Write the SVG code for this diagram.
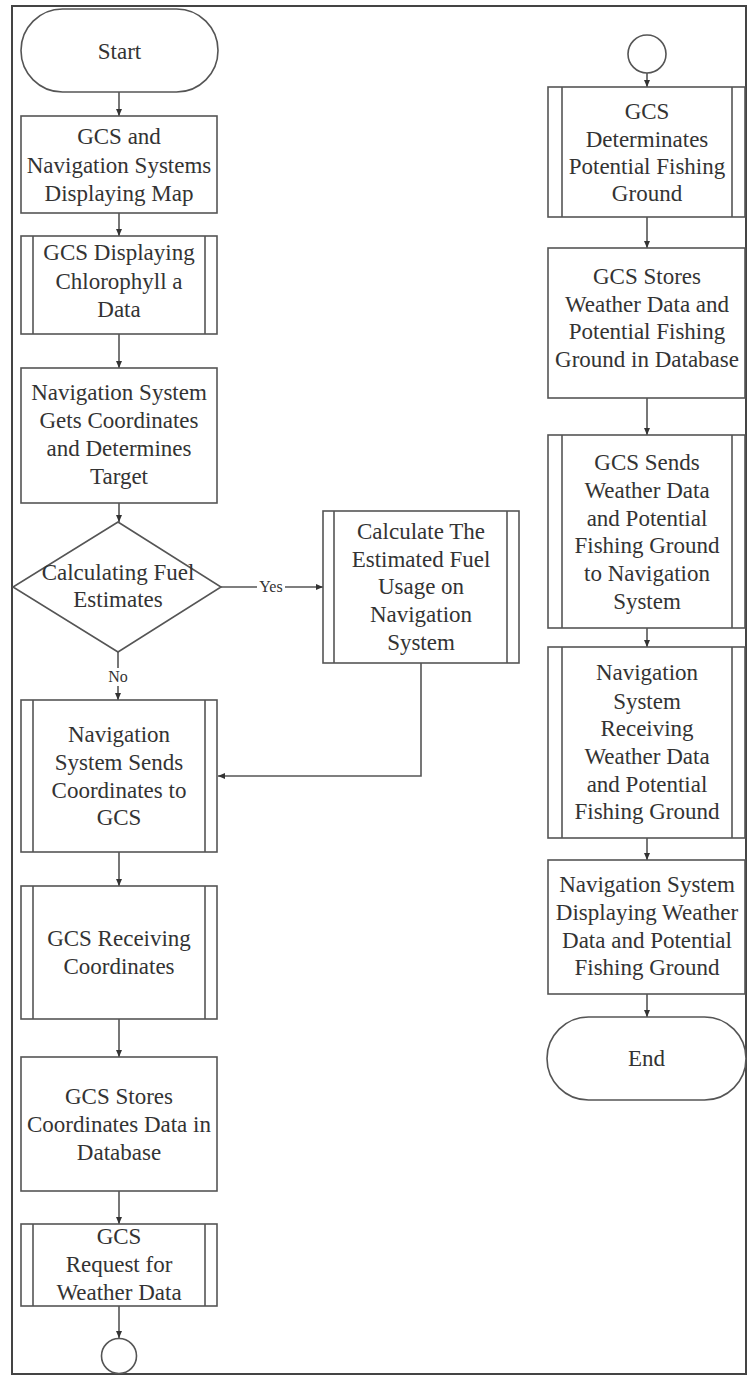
<svg xmlns="http://www.w3.org/2000/svg" width="749" height="1376" viewBox="0 0 749 1376">
<defs>
<marker id="arr" markerWidth="8" markerHeight="8" refX="7" refY="4" orient="auto" markerUnits="userSpaceOnUse">
<path d="M0,1 L7,4 L0,7 Z" fill="#333"/>
</marker>
<style>
.s{fill:#fff;stroke:#555;stroke-width:1.6}
.i{stroke:#555;stroke-width:1.6;fill:none}
text{font-family:'Liberation Serif','DejaVu Serif','Times New Roman',serif}
.t{font-size:23px;fill:#333;text-anchor:middle}
.l{font-size:16px;fill:#333;text-anchor:middle}
.ca{stroke:#555;stroke-width:1.6;fill:none;marker-end:url(#arr)}
</style>
</defs>
<rect x="12" y="6" width="734" height="1368" fill="#fff" stroke="#444" stroke-width="2"/>

<g id="connectors">
<line class="ca" x1="119" y1="92" x2="119" y2="116"/>
<line class="ca" x1="119" y1="213" x2="119" y2="236"/>
<line class="ca" x1="119" y1="334" x2="119" y2="368"/>
<line class="ca" x1="119" y1="503" x2="119" y2="522"/>
<line class="ca" x1="221" y1="587" x2="323" y2="587"/>
<line class="ca" x1="118" y1="652" x2="118" y2="700"/>
<polyline class="ca" points="421,663 421,776 218,776"/>
<line class="ca" x1="119" y1="852" x2="119" y2="886"/>
<line class="ca" x1="119" y1="1019" x2="119" y2="1057"/>
<line class="ca" x1="119" y1="1191" x2="119" y2="1224"/>
<line class="ca" x1="119" y1="1306" x2="119" y2="1338"/>
<line class="ca" x1="647" y1="73" x2="647" y2="87"/>
<line class="ca" x1="647" y1="217" x2="647" y2="248"/>
<line class="ca" x1="647" y1="398" x2="647" y2="435"/>
<line class="ca" x1="647" y1="628" x2="647" y2="647"/>
<line class="ca" x1="647" y1="838" x2="647" y2="860"/>
<line class="ca" x1="647" y1="994" x2="647" y2="1017"/>
<rect x="257" y="578" width="28" height="18" fill="#fff"/>
<text class="l" x="271" y="592" font-family="Liberation Serif, serif">Yes</text>
<rect x="106" y="668" width="24" height="18" fill="#fff"/>
<text class="l" x="118" y="682" font-family="Liberation Serif, serif">No</text>
</g>

<g id="start" font-family="Liberation Serif, serif">
<rect class="s" x="21" y="9" width="197" height="83" rx="41.5"/>
<text class="t" x="119.5" y="59">Start</text>
</g>

<g id="n1">
<rect class="s" x="21" y="116" width="196" height="97"/>
<text class="t" x="119" y="144">GCS and</text>
<text class="t" x="119" y="173">Navigation Systems</text>
<text class="t" x="119" y="201">Displaying Map</text>
</g>

<g id="n2">
<rect class="s" x="21" y="236" width="196" height="98"/>
<line class="i" x1="33" y1="236" x2="33" y2="334"/>
<line class="i" x1="205" y1="236" x2="205" y2="334"/>
<text class="t" x="119" y="260">GCS Displaying</text>
<text class="t" x="119" y="289">Chlorophyll a</text>
<text class="t" x="119" y="317">Data</text>
</g>

<g id="n3">
<rect class="s" x="21" y="368" width="196" height="135"/>
<text class="t" x="119" y="400">Navigation System</text>
<text class="t" x="119" y="428">Gets Coordinates</text>
<text class="t" x="119" y="456">and Determines</text>
<text class="t" x="119" y="484">Target</text>
</g>

<g id="decision">
<polygon class="s" points="118,522 221,587 118,652 13,587"/>
<text class="t" x="118" y="580">Calculating Fuel</text>
<text class="t" x="118" y="607">Estimates</text>
</g>

<g id="calc">
<rect class="s" x="323" y="511" width="196" height="152"/>
<line class="i" x1="334" y1="511" x2="334" y2="663"/>
<line class="i" x1="507" y1="511" x2="507" y2="663"/>
<text class="t" x="421" y="539">Calculate The</text>
<text class="t" x="421" y="567">Estimated Fuel</text>
<text class="t" x="421" y="594">Usage on</text>
<text class="t" x="421" y="622">Navigation</text>
<text class="t" x="421" y="650">System</text>
</g>

<g id="n4">
<rect class="s" x="21" y="700" width="196" height="152"/>
<line class="i" x1="33" y1="700" x2="33" y2="852"/>
<line class="i" x1="205" y1="700" x2="205" y2="852"/>
<text class="t" x="119" y="742">Navigation</text>
<text class="t" x="119" y="770">System Sends</text>
<text class="t" x="119" y="798">Coordinates to</text>
<text class="t" x="119" y="825">GCS</text>
</g>

<g id="n5">
<rect class="s" x="21" y="886" width="196" height="133"/>
<line class="i" x1="33" y1="886" x2="33" y2="1019"/>
<line class="i" x1="205" y1="886" x2="205" y2="1019"/>
<text class="t" x="119" y="946">GCS Receiving</text>
<text class="t" x="119" y="974">Coordinates</text>
</g>

<g id="n6">
<rect class="s" x="21" y="1057" width="196" height="134"/>
<text class="t" x="119" y="1104">GCS Stores</text>
<text class="t" x="119" y="1132">Coordinates Data in</text>
<text class="t" x="119" y="1160">Database</text>
</g>

<g id="n7">
<rect class="s" x="21" y="1224" width="196" height="82"/>
<line class="i" x1="33" y1="1224" x2="33" y2="1306"/>
<line class="i" x1="205" y1="1224" x2="205" y2="1306"/>
<text class="t" x="119" y="1244">GCS</text>
<text class="t" x="119" y="1272">Request for</text>
<text class="t" x="119" y="1300">Weather Data</text>
</g>

<g id="c1">
<circle class="s" cx="119" cy="1356" r="17.5"/>
</g>

<g id="c2">
<circle class="s" cx="647" cy="54" r="19"/>
</g>

<g id="r1">
<rect class="s" x="548" y="87" width="197" height="130"/>
<line class="i" x1="562" y1="87" x2="562" y2="217"/>
<line class="i" x1="732" y1="87" x2="732" y2="217"/>
<text class="t" x="647" y="119">GCS</text>
<text class="t" x="647" y="147">Determinates</text>
<text class="t" x="647" y="174">Potential Fishing</text>
<text class="t" x="647" y="201">Ground</text>
</g>

<g id="r2">
<rect class="s" x="548" y="248" width="197" height="150"/>
<text class="t" x="647" y="284">GCS Stores</text>
<text class="t" x="647" y="312">Weather Data and</text>
<text class="t" x="647" y="339">Potential Fishing</text>
<text class="t" x="647" y="367">Ground in Database</text>
</g>

<g id="r3">
<rect class="s" x="548" y="435" width="197" height="193"/>
<line class="i" x1="562" y1="435" x2="562" y2="628"/>
<line class="i" x1="732" y1="435" x2="732" y2="628"/>
<text class="t" x="647" y="470">GCS Sends</text>
<text class="t" x="647" y="498">Weather Data</text>
<text class="t" x="647" y="526">and Potential</text>
<text class="t" x="647" y="553">Fishing Ground</text>
<text class="t" x="647" y="581">to Navigation</text>
<text class="t" x="647" y="609">System</text>
</g>

<g id="r4">
<rect class="s" x="548" y="647" width="197" height="191"/>
<line class="i" x1="562" y1="647" x2="562" y2="838"/>
<line class="i" x1="732" y1="647" x2="732" y2="838"/>
<text class="t" x="647" y="680">Navigation</text>
<text class="t" x="647" y="709">System</text>
<text class="t" x="647" y="736">Receiving</text>
<text class="t" x="647" y="764">Weather Data</text>
<text class="t" x="647" y="792">and Potential</text>
<text class="t" x="647" y="819">Fishing Ground</text>
</g>

<g id="r5">
<rect class="s" x="548" y="860" width="197" height="134"/>
<text class="t" x="647" y="892">Navigation System</text>
<text class="t" x="647" y="920">Displaying Weather</text>
<text class="t" x="647" y="948">Data and Potential</text>
<text class="t" x="647" y="975">Fishing Ground</text>
</g>

<g id="end">
<rect class="s" x="547" y="1017" width="199" height="83" rx="41.5"/>
<text class="t" x="646.5" y="1066">End</text>
</g>
</svg>
